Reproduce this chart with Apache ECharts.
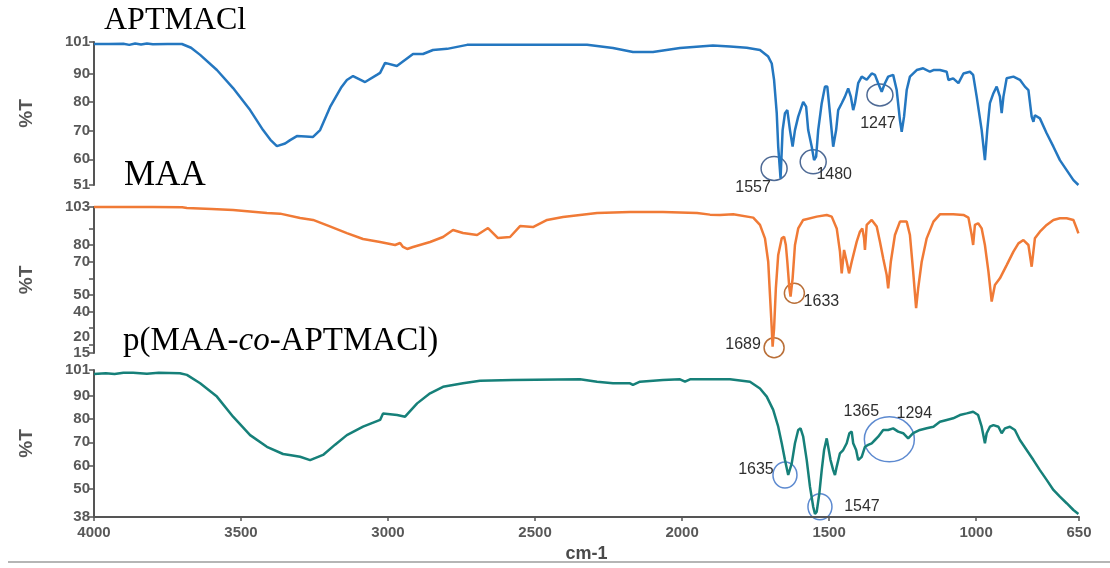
<!DOCTYPE html>
<html>
<head>
<meta charset="utf-8">
<script src="https://cdn.jsdelivr.net/npm/echarts@6/dist/echarts.min.js"></script>
<style>
  html, body { margin: 0; padding: 0; background: #fff; }
  #chart { width: 1110px; height: 568px; }
</style>
</head>
<body>
<div id="chart"></div>
<script>
// ---- FTIR spectra: wavenumber (cm-1) and transmittance (%T) ----
const aptWn = [4000,3950,3900,3880,3860,3840,3820,3800,3750,3701,3670,3639,3582,3527,3469,3425,3400,3378,3350,3333,3310,3280,3255,3231,3197,3160,3140,3119,3078,3038,3027,3010,2970,2915,2881,2847,2799,2731,2500,2323,2235,2167,2099,2007,1895,1837,1780,1735,1707,1695,1687,1678,1673,1665,1658,1650,1642,1633,1624,1616,1605,1588,1578,1571,1559,1551,1544,1537,1525,1514,1506,1497,1486,1476,1469,1457,1446,1435,1426,1418,1412,1401,1389,1372,1355,1344,1333,1321,1310,1299,1282,1270,1259,1253,1245,1236,1225,1202,1180,1157,1145,1123,1100,1094,1078,1060,1043,1021,1010,998,981,970,962,953,941,930,919,913,907,896,873,851,834,822,811,805,800,783,760,737,715,692,669,652];
const aptT  = [100.3,100.3,100.4,100.0,100.5,100.1,100.5,100.2,100.3,100.3,99.0,96.5,91.2,84.9,77.2,70.2,66.8,64.6,65.5,66.7,68.1,68.0,67.8,70.2,78.3,85.0,87.7,89.1,87.0,89.5,90.2,93.7,92.6,96.8,96.8,98.2,98.6,100.0,100.0,100.0,98.9,97.5,97.5,98.9,99.8,99.4,99.0,98.2,95.9,93.5,87.7,76.1,64.4,53.3,70.2,76.1,77.2,70.2,64.4,70.2,74.9,80.1,78.4,70.2,64.4,59.7,60.9,70.2,79.6,85.4,85.4,76.1,64.4,70.2,77.2,79.6,81.9,84.8,81.9,77.2,79.6,86.6,88.9,87.8,90.0,89.5,86.6,83.6,86.6,88.9,89.5,84.2,73.7,69.6,74.9,84.2,88.9,91.2,91.8,90.6,91.2,91.2,90.6,87.7,88.3,86.6,90.0,90.6,89.5,81.9,70.2,59.7,70.2,79.6,83.1,85.4,81.9,76.1,81.9,88.3,88.9,87.8,85.4,84.2,74.9,73.1,75.4,74.3,69.1,64.4,59.7,56.2,52.7,51.0];

const maaWn = [4000,3800,3700,3684,3600,3527,3412,3367,3299,3255,3200,3140,3085,3027,2976,2959,2949,2935,2915,2857,2813,2779,2745,2697,2660,2626,2585,2551,2507,2459,2405,2289,2177,2065,1949,1905,1871,1826,1758,1735,1718,1707,1701,1695,1692,1687,1681,1673,1661,1653,1647,1642,1635,1631,1624,1616,1605,1588,1542,1508,1491,1474,1463,1457,1449,1440,1432,1423,1406,1395,1387,1381,1378,1372,1355,1338,1327,1316,1304,1299,1290,1276,1259,1236,1225,1214,1204,1197,1185,1168,1145,1123,1078,1043,1026,1015,1010,1004,993,981,970,958,947,936,919,896,873,856,839,822,811,800,783,760,737,715,692,669,658,652];
const maaT  = [103.0,103.0,102.8,102.4,101.8,101.2,99.4,99.0,96.4,95.2,91.5,87.3,83.7,81.9,80.1,81.3,78.9,77.7,78.9,81.9,84.9,89.1,87.3,86.1,90.3,84.3,84.9,91.5,90.9,95.2,97.0,99.4,100.0,100.0,99.4,98.4,98.2,98.6,96.6,92.2,84.1,70.0,50.0,29.9,18.8,29.9,54.0,74.1,84.1,85.1,80.1,70.0,54.0,49.0,60.0,80.1,90.1,95.2,97.2,98.2,97.2,90.1,76.1,63.0,77.1,70.0,63.0,70.0,82.1,88.1,90.1,84.1,77.1,92.2,95.2,91.2,82.1,72.1,62.0,54.0,70.0,86.1,94.2,94.2,86.1,64.0,42.0,54.0,70.0,84.1,94.2,98.6,98.6,98.2,96.6,86.1,80.1,92.2,93.2,90.1,80.1,64.0,46.0,56.0,60.0,68.0,76.1,81.1,83.1,80.1,67.0,84.1,88.1,92.2,95.2,96.2,96.2,95.2,90.1,87.1];

const copWn = [4000,3960,3930,3900,3867,3820,3780,3708,3684,3639,3582,3527,3469,3412,3357,3330,3299,3265,3221,3180,3140,3085,3027,3017,2969,2942,2932,2901,2857,2813,2745,2687,2575,2347,2289,2235,2177,2167,2143,2065,2007,1990,1973,1837,1769,1735,1712,1690,1673,1661,1650,1639,1627,1616,1605,1597,1588,1576,1565,1554,1548,1542,1533,1525,1517,1508,1503,1495,1486,1480,1474,1463,1452,1440,1431,1423,1418,1408,1401,1395,1389,1378,1367,1355,1344,1333,1316,1299,1282,1265,1248,1231,1214,1191,1168,1145,1123,1100,1078,1055,1032,1010,993,981,970,964,953,941,924,913,902,885,868,851,828,805,783,760,737,715,692,669,652];
const copT  = [99.3,99.6,99.3,99.8,99.8,99.4,99.8,99.6,98.9,95.3,89.6,81.0,73.1,68.1,65.0,64.5,63.8,62.4,64.6,69.0,73.1,76.7,79.6,82.4,81.7,81.0,82.4,86.7,91.0,93.8,95.3,96.4,96.7,97.0,96.0,95.3,95.3,94.6,96.0,96.7,97.0,96.0,97.0,97.0,96.0,93.1,89.6,83.9,76.7,69.6,62.4,56.0,61.0,69.6,75.3,76.0,72.4,62.4,51.0,42.4,39.3,40.3,48.2,58.1,66.7,71.7,68.1,62.4,58.1,56.0,59.6,65.3,66.7,69.6,73.9,74.6,69.6,66.7,62.4,61.7,63.8,68.1,68.9,69.6,71.0,72.4,75.3,75.3,76.0,74.6,73.9,71.7,73.9,75.3,76.0,76.7,78.8,79.6,80.3,81.7,82.4,83.1,81.7,76.7,69.6,73.9,76.7,77.4,76.7,73.9,76.0,76.7,75.3,71.0,66.7,62.4,58.1,53.9,49.6,46.7,43.9,41.0,39.3];

// Axis ticks
const xTicks = [4000, 3500, 3000, 2500, 2000, 1500, 1000, 650];
const aptTicks = [51, 60, 70, 80, 90, 101];
const maaTicks = [15, 20, 30, 40, 50, 60, 70, 80, 90, 103];
const maaLabels = [15, 20, 40, 50, 70, 80, 103];
const copTicks = [38, 50, 60, 70, 80, 90, 101];

// Peak annotations: text and the point each ring encloses [cm-1, %T]
const aptPeakText = ['1557', '1480', '1247'];
const aptPeakAt = [[1687, 56.8], [1554, 59.1], [1327, 82.5]];
const maaPeakText = ['1689', '1633'];
const maaPeakAt = [[1687, 18.2], [1618, 51.0]];
const copPeakText = ['1635', '1547', '1365', '1294'];
const copPeakAt = [[1650, 56.0], [1531, 42.4], [1295, 71.3]];

const zip = (a, b) => a.map((v, i) => [v, b[i]]);

const COLORS = { apt: '#2477c0', maa: '#f07a36', cop: '#168079' };
const axisGray = '#555';
const labelGray = '#585858';
const sans = 'Arial, "Liberation Sans", sans-serif';
const serif = '"Liberation Serif", "Times New Roman", serif';

const chart = echarts.init(document.getElementById('chart'), null, { renderer: 'canvas' });

const grids = [
  { left: 94, right: 31, top: 42, height: 143 },
  { left: 94, right: 31, top: 207, height: 146 },
  { left: 94, right: 31, top: 370, height: 147 }
];

const plain = (v) => String(v);
const labelStyle = { color: labelGray, fontSize: 15, fontWeight: 'bold', fontFamily: sans };

function xAxis(i, visible) {
  return {
    type: 'value', gridIndex: i, min: 650, max: 4000, inverse: true,
    show: visible,
    axisLine: { show: true, onZero: false, lineStyle: { color: axisGray, width: 2 } },
    axisTick: { show: true, customValues: xTicks, length: 4, lineStyle: { color: axisGray, width: 1.5 } },
    axisLabel: Object.assign({ customValues: xTicks, formatter: plain, hideOverlap: false, margin: 8 }, labelStyle),
    splitLine: { show: false },
    name: visible ? 'cm-1' : '', nameLocation: 'middle', nameGap: 28,
    nameTextStyle: { color: '#4a4a4a', fontSize: 18, fontWeight: 'bold', fontFamily: sans }
  };
}

function yAxis(i, min, max, ticks, labels) {
  return {
    type: 'value', gridIndex: i, min: min, max: max,
    name: '%T', nameLocation: 'middle', nameGap: 58, nameRotate: 90,
    nameTextStyle: { color: axisGray, fontSize: 19, fontWeight: 'bold', fontFamily: sans },
    axisLine: { show: true, lineStyle: { color: axisGray, width: 2 } },
    axisTick: { show: true, customValues: ticks, length: 5, lineStyle: { color: axisGray, width: 1.5 } },
    axisLabel: Object.assign({ customValues: labels, formatter: plain, hideOverlap: false,
      showMinLabel: true, showMaxLabel: true, margin: 4 }, labelStyle),
    splitLine: { show: false }
  };
}

// The MAA scale packs "20" right above "15"; that label sits on a twin axis
// of the same panel, resting on its tick, so the overlap pruning keeps both.
const maaTight = [20];
const maaMain = maaLabels.filter(v => maaTight.indexOf(v) < 0);
const maaTwin = {
  type: 'value', gridIndex: 1, min: 15, max: 103, position: 'left',
  axisLine: { show: false }, axisTick: { show: false }, splitLine: { show: false },
  axisLabel: Object.assign({ customValues: maaTight, formatter: plain, margin: 4, verticalAlign: 'bottom' }, labelStyle)
};

function lineSeries(i, data, color) {
  return {
    type: 'line', xAxisIndex: i, yAxisIndex: i, data: data,
    showSymbol: false, symbol: 'none', smooth: false, clip: false,
    lineStyle: { color: color, width: 2.5 }, silent: true
  };
}

chart.setOption({
  animation: false,
  backgroundColor: '#fff',
  grid: grids,
  xAxis: [xAxis(0, false), xAxis(1, false), xAxis(2, true)],
  yAxis: [
    yAxis(0, 51, 101, aptTicks, aptTicks),
    yAxis(1, 15, 103, maaTicks, maaMain),
    yAxis(2, 38, 101, copTicks, copTicks),
    maaTwin
  ],
  series: [
    lineSeries(0, zip(aptWn, aptT), COLORS.apt),
    lineSeries(1, zip(maaWn, maaT), COLORS.maa),
    lineSeries(2, zip(copWn, copT), COLORS.cop)
  ]
});

// ---- Titles, peak rings and labels ----
const g = [];

function title(x, y, size, text, rich) {
  g.push({
    type: 'text', x: x, y: y, silent: true,
    style: { text: text, font: size + 'px ' + serif, fill: '#000', verticalAlign: 'middle', rich: rich }
  });
}
title(104, 21, 32, 'APTMACl');
title(124, 176, 35, 'MAA');
title(123, 341, 33, '{n|p(MAA-}{i|co}{n|-APTMACl)}', {
  n: { fontFamily: serif, fontSize: 33, fill: '#000' },
  i: { fontFamily: serif, fontSize: 33, fontStyle: 'italic', fill: '#000' }
});

function px(gridIdx, pt) {
  return chart.convertToPixel({ xAxisIndex: gridIdx, yAxisIndex: gridIdx }, pt);
}
function ring(c, rx, ry, color) {
  g.push({ type: 'ellipse', silent: true, shape: { cx: c[0], cy: c[1], rx: rx, ry: ry },
    style: { fill: 'none', stroke: color, lineWidth: 1.5 } });
}
function tag(c, dx, dy, text) {
  g.push({ type: 'text', x: c[0] + dx, y: c[1] + dy, silent: true,
    style: { text: text, font: '16px ' + sans, fill: '#2f2f2f', align: 'center', verticalAlign: 'middle' } });
}

// APTMACl
const aRing = '#4e6a95';
const a0 = px(0, aptPeakAt[0]), a1 = px(0, aptPeakAt[1]), a2 = px(0, aptPeakAt[2]);
ring(a0, 13, 12, aRing); tag(a0, -21, 19, aptPeakText[0]);
ring(a1, 13, 12, aRing); tag(a1, 21, 13, aptPeakText[1]);
ring(a2, 13, 11, aRing); tag(a2, -2, 29, aptPeakText[2]);

// MAA
const mRing = '#b96f38';
const m0 = px(1, maaPeakAt[0]), m1 = px(1, maaPeakAt[1]);
ring(m0, 10, 10, mRing); tag(m0, -31, -3, maaPeakText[0]);
ring(m1, 10, 10, mRing); tag(m1, 27, 8, maaPeakText[1]);

// Copolymer
const cRing = '#5d8ad0';
const c0 = px(2, copPeakAt[0]), c1 = px(2, copPeakAt[1]), c2 = px(2, copPeakAt[2]);
ring(c0, 12, 13, cRing); tag(c0, -29, -5, copPeakText[0]);
ring(c1, 12, 13, cRing); tag(c1, 42, 0, copPeakText[1]);
ring(c2, 25, 22.5, cRing); tag(c2, -28, -28, copPeakText[2]); tag(c2, 25, -26, copPeakText[3]);

// page rule under the figure
g.push({ type: 'line', silent: true, shape: { x1: 8, y1: 562, x2: 1110, y2: 562 },
  style: { stroke: '#b5b5b5', lineWidth: 2 } });

chart.setOption({ graphic: g });
</script>
</body>
</html>
